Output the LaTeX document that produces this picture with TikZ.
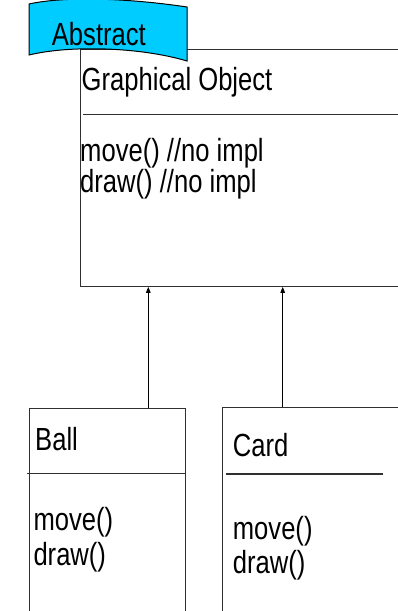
\documentclass[tikz,border=0pt]{standalone}
\usepackage{fontspec}
\setmainfont{Liberation Sans}
\usetikzlibrary{arrows.meta}
\definecolor{flagcyan}{HTML}{00CCFF}
\definecolor{linegray}{HTML}{303030}
\newcommand\sqtext[1]{\scalebox{0.8}[1]{#1}}
\tikzset{
  umltext/.style={anchor=base west, inner sep=0pt, font=\fontsize{32}{32}\selectfont},
  umlbox/.style={draw=linegray, line width=1.1pt, anchor=north west, inner sep=0pt},
  sepline/.style={draw=linegray, line width=1.1pt},
  inherit/.style={draw=black, line width=1pt, -{Triangle[length=6pt,width=4.5pt]}},
}
\begin{document}
\begin{tikzpicture}[x=1pt,y=-1pt]
\useasboundingbox (0,0) rectangle (398,611);
\clip (0,0) rectangle (398,611);
% boxes
\node[umlbox, minimum width=340pt, minimum height=237.2pt] (go) at (79.5,48.5) {};
\node[umlbox, minimum width=155.4pt, minimum height=240pt] (ball) at (29.3,407.5) {};
\node[umlbox, minimum width=200pt, minimum height=240pt] (card) at (222,406.7) {};
% separators
\draw[sepline] (83,114.5) -- (420,114.5);
\draw[sepline] (27.3,473.3) -- (ball.east |- 0,473.3);
\draw[sepline] (226,474) -- (382.7,474);
% texts
\node[umltext] (gotitle) at (81.5,90) {\sqtext{Graphical Object}};
\node[umltext] (gom1) at (80,161.7) {\sqtext{move() //no impl}};
\node[umltext] (gom2) at (80,192.5) {\sqtext{draw() //no impl}};
\node[umltext] (balltitle) at (35,450) {\sqtext{Ball}};
\node[umltext] (ballm1) at (33.3,530) {\sqtext{move()}};
\node[umltext] (ballm2) at (33.3,565) {\sqtext{draw()}};
\node[umltext] (cardtitle) at (232.7,456) {\sqtext{Card}};
\node[umltext] (cardm1) at (232.7,539) {\sqtext{move()}};
\node[umltext] (cardm2) at (232.7,573) {\sqtext{draw()}};
% inheritance connectors
\coordinate (xa) at (148.3,0);
\coordinate (xb) at (282.7,0);
\draw[inherit] (ball.north -| xa) -- (go.south -| xa);
\draw[inherit] (card.north -| xb) -- (go.south -| xb);
% flag
\draw[fill=flagcyan, draw=black, line width=1pt]
  (29,4) .. controls (60,-3) and (120,-3) .. (187,7)
  -- (187,61) .. controls (140,47) and (70,45) .. (29,55) -- cycle;
\node[umltext] (abstract) at (51.7,45) {\sqtext{Abstract}};
\end{tikzpicture}
\end{document}
